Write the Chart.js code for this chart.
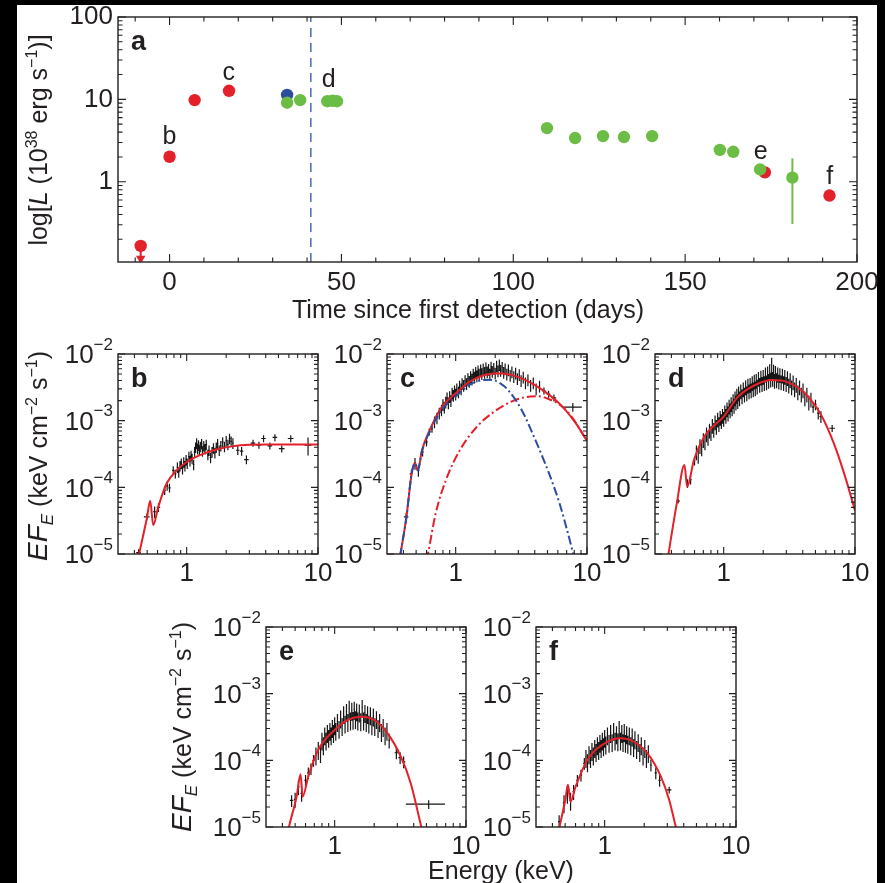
<!DOCTYPE html>
<html lang="en">
<head>
<meta charset="UTF-8">
<title>Outburst light curve and spectra</title>
<script src="https://cdn.jsdelivr.net/npm/chart.js"></script>
<style>
  body { margin: 0; background: #000; width: 885px; height: 883px; overflow: hidden; }
  #page { position: absolute; left: 17px; top: 5px; width: 860px; height: 878px; background: #fff; }
  canvas { position: absolute; left: 0; top: 0; }
  .t { position: absolute; font-family: "Liberation Sans", Arial, Helvetica, sans-serif; font-size: 25px;
       color: #231f20; white-space: nowrap; line-height: 1; }
  .c { transform: translate(-50%, -50%); }
  .v { transform: translate(-50%, -50%) rotate(-90deg); }
  .t sup { font-size: 16px; vertical-align: 10px; line-height: 0; }
  .t sub { font-size: 17px; vertical-align: -6px; line-height: 0; }
  .big { font-size: 28px; }
</style>
</head>
<body>
<div id="page"></div>
<canvas id="lc" width="885" height="883"></canvas>
<canvas id="sb" width="885" height="883"></canvas>
<canvas id="sc" width="885" height="883"></canvas>
<canvas id="sd" width="885" height="883"></canvas>
<canvas id="se" width="885" height="883"></canvas>
<canvas id="sf" width="885" height="883"></canvas>

<div class="t v" style="left:38px; top:140px">log[<i>L</i> (10<sup>38</sup> erg s<sup>−1</sup>)]</div>
<div class="t c" style="left:468px; top:309px">Time since first detection (days)</div>
<div class="t v" style="left:38px; top:456px"><i class="big">EF</i><sub><i>E</i></sub> (keV cm<sup>−2</sup> s<sup>−1</sup>)</div>
<div class="t v" style="left:182px; top:727px"><i class="big">EF</i><sub><i>E</i></sub> (keV cm<sup>−2</sup> s<sup>−1</sup>)</div>
<div class="t c" style="left:501px; top:870px">Energy (keV)</div>

<script>
  // ---- panel a: luminosity vs time ----
  const lcGreenDay = [34.2, 38.0, 45.9, 47.4, 48.7, 109.8, 118.0, 126.1, 132.2, 140.4, 160.1, 164.0, 171.8, 181.2];
  const lcGreenLum = [9.1, 9.8, 9.5, 9.6, 9.5, 4.48, 3.39, 3.58, 3.49, 3.58, 2.43, 2.31, 1.41, 1.12];
  const lcRedDay = [-8.4, 0, 7.3, 17.3, 173.2, 192.0];
  const lcRedLum = [0.166, 2.01, 9.8, 12.7, 1.30, 0.68];
  const lcBlueDay = [34.2];
  const lcBlueLum = [11.3];
  const lcErrDay = 181.2, lcErrLo = 0.307, lcErrHi = 1.92;   // green error bar
  const lcLimitDay = -8.4, lcLimitTo = 0.117;                 // upper limit arrow
  const lcDashDay = 41.1;
  const lcNotes = [['b', 0, 3.49], ['c', 17.2, 20.8], ['d', 46.3, 17.1], ['e', 172, 2.3], ['f', 192.1, 1.14]];
  const dayTicks = [0, 50, 100, 150, 200];
  const lumTicks = [1, 10, 100];

  // ---- spectra: tick labels ----
  const energyTicks = [1, 10];
  const fluxTicks = [[1e-2, '−2'], [1e-3, '−3'], [1e-4, '−4'], [1e-5, '−5']];

  // model curves (keV, keV cm^-2 s^-1)
  const bModelE = [0.40, 0.434, 0.497, 0.528, 0.556, 0.608, 0.705, 0.84, 1.0, 1.26, 1.69, 2.27, 3.0, 4.07, 6.0, 10.0];
  const bModelF = [5e-6, 1.0e-5, 3.4e-5, 6.3e-5, 2.7e-5, 5.1e-5, 1.15e-4, 1.8e-4, 2.4e-4, 3.05e-4, 3.7e-4, 4.15e-4, 4.35e-4, 4.4e-4, 4.4e-4, 4.4e-4];

  const cModelE = [0.36, 0.38, 0.422, 0.462, 0.49, 0.515, 0.554, 0.644, 0.772, 1.0, 1.29, 1.64, 1.96, 2.3, 2.8, 3.38, 4.57, 6.17, 8.1, 10.0];
  const cModelF = [5e-6, 1.0e-5, 3.6e-5, 1.6e-4, 2.3e-4, 1.8e-4, 3.6e-4, 7.7e-4, 1.53e-3, 2.57e-3, 3.9e-3, 4.8e-3, 5.1e-3, 5.1e-3, 4.7e-3, 4.1e-3, 2.9e-3, 1.8e-3, 9.5e-4, 5.0e-4];
  const cSoftE = [0.36, 0.38, 0.422, 0.462, 0.49, 0.515, 0.554, 0.644, 0.772, 1.0, 1.29, 1.54, 1.85, 2.2, 2.5, 3.18, 4.05, 5.15, 6.17, 7.18, 7.86];
  const cSoftF = [5e-6, 1.0e-5, 3.6e-5, 1.6e-4, 2.3e-4, 1.8e-4, 3.5e-4, 7.3e-4, 1.4e-3, 2.3e-3, 3.5e-3, 4.0e-3, 4.1e-3, 3.6e-3, 2.9e-3, 1.45e-3, 5.1e-4, 1.6e-4, 5.8e-5, 2.0e-5, 1.0e-5];
  const cHardE = [0.60, 0.615, 0.705, 0.845, 1.075, 1.45, 1.96, 2.65, 3.38, 4.3, 5.15, 6.17, 7.5, 10.0];
  const cHardF = [8e-6, 1.0e-5, 4.1e-5, 1.3e-4, 3.6e-4, 8.1e-4, 1.36e-3, 1.93e-3, 2.25e-3, 2.32e-3, 2.1e-3, 1.75e-3, 1.2e-3, 5.0e-4];

  const dModelE = [0.36, 0.38, 0.44, 0.503, 0.527, 0.594, 0.711, 1.0, 1.29, 1.74, 2.35, 2.99, 4.03, 5.43, 6.9, 8.26, 10.0];
  const dModelF = [5e-6, 1.0e-5, 5.8e-5, 2.16e-4, 1.02e-4, 2.57e-4, 5.75e-4, 1.15e-3, 2.29e-3, 3.43e-3, 4.07e-3, 3.85e-3, 2.72e-3, 1.29e-3, 4.57e-4, 1.62e-4, 4.5e-5];

  const eModelE = [0.42, 0.449, 0.513, 0.55, 0.57, 0.629, 0.748, 1.0, 1.26, 1.59, 2.0, 2.53, 3.19, 3.8, 4.57, 5.0];
  const eModelF = [5e-6, 1.0e-5, 2.85e-5, 6.2e-5, 2.85e-5, 5.7e-5, 1.43e-4, 2.85e-4, 4.03e-4, 4.52e-4, 4.03e-4, 2.54e-4, 1.14e-4, 4.5e-5, 1.0e-5, 5e-6];

  const fModelE = [0.42, 0.453, 0.504, 0.525, 0.55, 0.6, 0.738, 1.0, 1.32, 1.67, 2.12, 2.68, 3.1, 3.48, 3.8];
  const fModelF = [5e-6, 1.0e-5, 2.7e-5, 4.3e-5, 2.4e-5, 4.0e-5, 1.01e-4, 1.8e-4, 2.14e-4, 1.9e-4, 1.27e-4, 5.7e-5, 2.54e-5, 1.0e-5, 5e-6];

  // data: [E, F, horizontal half-width fraction, vertical half-height fraction]
  const bData = [
    [0.43,1.05e-5,.04,.12],[0.497,3.6e-5,.05,.12],[0.57,4.3e-5,.03,.2],[0.61,5.0e-5,.03,.15],[0.68,9.0e-5,.02,.15],
    [0.71,1.05e-4,.02,.15],[0.74,9.8e-5,.02,.15],[0.79,1.8e-4,.02,.15],[0.82,1.6e-4,.02,.15],
    [0.85,2.0e-4],[0.87,1.7e-4],[0.89,2.1e-4],[0.91,2.3e-4],[0.93,1.9e-4],[0.95,2.4e-4],[0.97,2.1e-4],[0.99,2.6e-4],
    [1.01,2.3e-4],[1.04,2.9e-4],[1.06,2.5e-4],[1.08,3.0e-4],[1.10,2.7e-4],[1.13,2.2e-4],[1.15,3.4e-4],[1.17,4.0e-4],
    [1.19,4.6e-4],[1.21,3.8e-4],[1.23,4.3e-4],[1.25,3.6e-4],[1.27,4.1e-4],[1.30,4.5e-4],[1.32,3.5e-4],[1.35,4.2e-4],
    [1.38,3.8e-4],[1.41,4.4e-4],[1.45,3.1e-4],[1.48,3.6e-4],[1.52,2.8e-4],[1.56,3.4e-4],[1.60,3.9e-4],[1.64,3.3e-4],
    [1.68,4.0e-4],[1.72,4.5e-4],[1.77,3.6e-4],[1.82,4.2e-4],[1.88,4.8e-4],[1.94,4.1e-4],[2.00,5.0e-4],[2.06,4.4e-4],
    [2.12,5.4e-4],[2.18,4.9e-4],[2.25,4.6e-4],
    [2.45,3.6e-4,.03,.15],[2.62,3.5e-4,.03,.15],[2.85,2.6e-4,.04,.15],[3.2,4.6e-4,.04,.12],[3.55,4.3e-4,.04,.12],
    [3.85,5.4e-4,.04,.12],[4.3,4.2e-4,.04,.12],[4.7,5.6e-4,.04,.12],[5.3,3.8e-4,.05,.12],[6.2,5.4e-4,.05,.12],[8.4,4.3e-4,.06,.3]
  ];
  const cData = [
    [0.42,3.6e-5,.04,.15],[0.46,1.6e-4,.03,.15],[0.49,2.3e-4,.02,.2],[0.52,1.8e-4,.02,.2],[0.56,3.4e-4,.02,.15],
    [0.60,4.8e-4,.02,.15],[0.63,6.8e-4,.02,.12],[0.66,7.5e-4,.02,.12],[0.69,9.6e-4],[0.72,1.1e-3],[0.75,1.3e-3],
    [0.78,1.45e-3],[0.80,1.75e-3],[0.82,1.6e-3],[0.84,1.9e-3],[0.86,2.2e-3],[0.88,1.85e-3],[0.90,2.3e-3],[0.92,2.0e-3],
    [0.94,2.6e-3],[0.96,2.4e-3],[0.98,2.8e-3],[1.00,2.5e-3],[1.02,3.0e-3],[1.05,2.7e-3],[1.07,3.3e-3],[1.10,3.0e-3],
    [1.12,3.6e-3],[1.15,3.4e-3],[1.18,4.0e-3],[1.21,3.6e-3],[1.24,4.3e-3],[1.27,3.9e-3],[1.30,4.6e-3],[1.33,4.2e-3],
    [1.36,5.0e-3],[1.39,4.5e-3],[1.42,5.3e-3],[1.45,4.7e-3],[1.48,5.6e-3],[1.51,5.0e-3],[1.55,5.8e-3],[1.58,5.1e-3],
    [1.62,6.0e-3],[1.66,5.3e-3],[1.70,6.2e-3],[1.74,5.4e-3],[1.78,5.9e-3],[1.82,5.0e-3],[1.86,6.4e-3],[1.90,5.5e-3],
    [1.95,6.1e-3],[2.00,5.2e-3],[2.05,6.6e-3],[2.10,5.6e-3],[2.15,6.9e-3],[2.20,5.7e-3],[2.26,6.3e-3],[2.32,5.3e-3],
    [2.38,6.0e-3],[2.45,5.0e-3],[2.52,5.8e-3],[2.60,4.8e-3],[2.68,5.4e-3],[2.77,4.6e-3],[2.86,5.2e-3],[2.95,4.3e-3],
    [3.05,4.9e-3],[3.15,4.0e-3],[3.27,4.5e-3],[3.40,3.7e-3],[3.55,4.1e-3],[3.72,3.4e-3],[3.90,3.7e-3],[4.10,3.0e-3],
    [4.35,3.3e-3],[4.7,2.8e-3,.03,.12],[5.1,2.5e-3,.03,.12],[5.6,2.2e-3,.04,.12],[7.8,1.6e-3,.17,.15]
  ];
  const dData = [
    [0.45,6.2e-5,.03,.08],[0.53,1.15e-4,.02,.15],[0.56,1.3e-4,.02,.15],[0.60,2.5e-4,.015,.15],[0.62,3.4e-4],[0.64,3.0e-4],
    [0.66,4.2e-4],[0.68,3.9e-4],[0.70,5.2e-4],[0.72,4.8e-4],[0.74,6.3e-4],[0.76,5.6e-4],[0.78,7.2e-4],[0.80,6.6e-4],
    [0.82,8.5e-4],[0.84,7.4e-4],[0.86,9.6e-4],[0.88,8.2e-4],[0.90,1.05e-3],[0.92,9.0e-4],[0.94,1.12e-3],[0.96,1.0e-3],
    [0.98,1.2e-3],[1.00,1.08e-3],[1.02,1.35e-3],[1.04,1.2e-3],[1.06,1.5e-3],[1.08,1.3e-3],[1.10,1.65e-3],[1.12,1.45e-3],
    [1.14,1.8e-3],[1.16,1.55e-3],[1.18,2.0e-3],[1.20,1.7e-3],[1.22,2.2e-3],[1.24,1.9e-3],[1.26,2.4e-3],[1.28,2.0e-3],
    [1.30,2.6e-3],[1.32,2.2e-3],[1.35,2.8e-3],[1.38,2.35e-3],[1.41,3.0e-3],[1.44,2.5e-3],[1.47,3.2e-3],[1.50,2.6e-3],
    [1.53,3.4e-3],[1.56,2.8e-3],[1.59,3.5e-3],[1.62,2.9e-3],[1.65,3.7e-3],[1.68,3.0e-3],[1.71,3.9e-3],[1.74,3.1e-3],
    [1.77,4.0e-3],[1.80,3.3e-3],[1.84,4.3e-3],[1.88,3.5e-3],[1.92,4.5e-3],[1.96,3.6e-3],[2.00,4.6e-3],[2.04,3.7e-3],
    [2.08,5.0e-3],[2.12,3.8e-3],[2.16,5.2e-3],[2.20,4.0e-3],[2.24,5.6e-3],[2.28,4.2e-3],[2.32,6.5e-3,.01,.35],[2.36,4.3e-3],
    [2.40,5.5e-3],[2.44,4.0e-3],[2.48,5.3e-3],[2.53,4.1e-3],[2.58,5.0e-3],[2.63,3.9e-3],[2.68,4.9e-3],[2.74,3.8e-3],
    [2.80,4.8e-3],[2.86,3.7e-3],[2.92,4.6e-3],[2.99,3.6e-3],[3.06,4.4e-3],[3.13,3.4e-3],[3.21,4.1e-3],[3.29,3.2e-3],
    [3.38,3.8e-3],[3.47,3.0e-3],[3.57,3.5e-3],[3.67,2.7e-3],[3.78,3.2e-3],[3.90,2.5e-3],[4.02,2.9e-3],[4.15,2.2e-3],
    [4.30,2.5e-3],[4.45,1.9e-3],[4.62,2.1e-3],[4.80,1.6e-3,.02,.18],[5.0,1.75e-3,.02,.18],[5.25,1.3e-3,.02,.2],
    [5.5,1.15e-3,.025,.2],[6.7,7.7e-4,.05,.12]
  ];
  const eData = [
    [0.47,2.5e-5,.03,.2],[0.50,2.6e-5,.02,.25],[0.53,4.0e-5,.02,.25],[0.56,3.2e-5,.02,.25],[0.60,5.0e-5,.02,.2],
    [0.63,6.5e-5,.02,.2],[0.66,7.5e-5,.02,.2],[0.69,1.0e-4,.02,.2],[0.72,1.2e-4],[0.75,1.45e-4],[0.78,1.3e-4],
    [0.80,2.0e-4],[0.82,1.7e-4],[0.84,2.4e-4],[0.86,2.0e-4],[0.88,2.6e-4],[0.90,2.2e-4],[0.92,2.8e-4],[0.94,2.4e-4],
    [0.96,3.1e-4],[0.98,2.6e-4],[1.00,3.4e-4],[1.02,2.8e-4],[1.05,3.8e-4],[1.08,3.0e-4],[1.11,4.3e-4],[1.14,3.3e-4],
    [1.17,5.0e-4],[1.20,3.6e-4],[1.23,5.4e-4],[1.26,3.8e-4],[1.29,6.0e-4],[1.32,4.0e-4],[1.35,5.6e-4],[1.38,4.1e-4],
    [1.41,5.8e-4],[1.44,4.2e-4],[1.47,5.5e-4],[1.50,4.0e-4],[1.54,5.3e-4],[1.58,3.9e-4],[1.62,6.2e-4],[1.66,4.0e-4],
    [1.70,5.2e-4],[1.74,3.8e-4],[1.78,5.0e-4],[1.82,3.6e-4],[1.87,4.8e-4],[1.92,3.4e-4],[1.97,4.6e-4],[2.02,3.3e-4],
    [2.08,4.2e-4],[2.14,3.1e-4],[2.20,3.8e-4],[2.27,2.7e-4],[2.34,3.2e-4],[2.42,2.4e-4],[2.50,2.8e-4],
    [2.60,2.0e-4,.015,.25],[2.95,1.3e-4,.03,.2],[3.15,1.1e-4,.03,.2],[3.35,9.5e-5,.03,.2],[5.2,2.2e-5,.33,.15]
  ];
  const fData = [
    [0.45,1.2e-5,.02,.25],[0.49,2.3e-5,.02,.3],[0.52,3.2e-5,.02,.3],[0.55,2.5e-5,.02,.3],[0.58,3.4e-5,.02,.25],
    [0.62,5.0e-5,.02,.2],[0.66,6.0e-5,.02,.2],[0.70,9.0e-5,.02,.2],[0.72,1.1e-4],[0.74,9.5e-5],[0.76,1.25e-4],
    [0.78,1.1e-4],[0.80,1.4e-4],[0.82,1.2e-4],[0.84,1.55e-4],[0.86,1.35e-4],[0.88,1.7e-4],[0.90,1.45e-4],[0.92,1.85e-4],
    [0.94,1.55e-4],[0.96,2.0e-4],[0.98,1.65e-4],[1.00,2.2e-4],[1.02,1.75e-4],[1.05,2.4e-4],[1.08,1.85e-4],[1.11,2.6e-4],
    [1.14,1.9e-4],[1.17,2.8e-4],[1.20,2.0e-4],[1.23,2.5e-4],[1.26,1.95e-4],[1.29,3.0e-4],[1.32,2.0e-4],[1.35,2.6e-4],
    [1.38,1.9e-4],[1.41,2.7e-4],[1.44,1.85e-4],[1.47,2.5e-4],[1.50,1.8e-4],[1.54,2.4e-4],[1.58,1.7e-4],[1.62,2.3e-4],
    [1.66,1.6e-4],[1.70,2.1e-4],[1.75,1.5e-4],[1.80,1.9e-4],[1.85,1.35e-4],[1.90,1.7e-4],[1.96,1.2e-4],[2.02,1.55e-4],
    [2.08,1.1e-4],[2.15,1.3e-4],[2.25,8.5e-5,.015,.2],[2.45,6.5e-5,.02,.2],[2.62,5.0e-5,.02,.2],[3.1,3.6e-5,.04,.12]
  ];

  const INK = '#231f20';
  const FONT = '"Liberation Sans", Arial, Helvetica, sans-serif';
  const RED = '#e3212a', GREEN = '#6cbd45', BLUE = '#2c4d9e';

  function logMinors(lo, hi) {
    const out = [];
    for (let d = Math.floor(Math.log10(lo)); d < Math.ceil(Math.log10(hi)); d++) {
      for (let m = 2; m <= 9; m++) {
        const v = m * Math.pow(10, d);
        if (v > lo * 1.001 && v < hi * 0.999) out.push(v);
      }
    }
    return out;
  }

  // frame, inward ticks, tick labels and panel letter
  function framePlugin(o) {
    return {
      id: 'frame',
      afterDraw(chart) {
        const { ctx, chartArea: a, scales: { x, y } } = chart;
        ctx.save();
        ctx.strokeStyle = INK;
        ctx.lineWidth = 1.4;
        ctx.strokeRect(a.left, a.top, a.right - a.left, a.bottom - a.top);
        ctx.lineWidth = 1.1;
        ctx.beginPath();
        const xt = (v, len) => {
          const p = x.getPixelForValue(v);
          ctx.moveTo(p, a.bottom); ctx.lineTo(p, a.bottom - len);
          ctx.moveTo(p, a.top); ctx.lineTo(p, a.top + len);
        };
        const yt = (v, len) => {
          const p = y.getPixelForValue(v);
          ctx.moveTo(a.left, p); ctx.lineTo(a.left + len, p);
          ctx.moveTo(a.right, p); ctx.lineTo(a.right - len, p);
        };
        o.xMajor.forEach(v => xt(v, o.major));
        o.xMinor.forEach(v => xt(v, o.minor));
        o.yMajor.forEach(v => yt(v, o.major));
        o.yMinor.forEach(v => yt(v, o.minor));
        ctx.stroke();

        ctx.fillStyle = INK;
        ctx.textBaseline = 'middle';
        ctx.font = '26px ' + FONT;
        ctx.textAlign = 'center';
        o.xMajor.forEach(v => ctx.fillText(String(v), x.getPixelForValue(v), a.bottom + o.xGap));
        o.yLabels.forEach(([v, base, exp]) => {
          const py = y.getPixelForValue(v);
          const right = a.left - 5;
          ctx.font = '17px ' + FONT;
          const ew = exp ? ctx.measureText(exp).width : 0;
          ctx.textAlign = 'left';
          if (exp) ctx.fillText(exp, right - ew, py - 9);
          ctx.font = '26px ' + FONT;
          ctx.textAlign = 'right';
          ctx.fillText(base, right - ew, py + (exp ? 2 : 0));
        });

        ctx.font = 'bold 27px ' + FONT;
        ctx.textAlign = 'left';
        ctx.fillText(o.letter, a.left + 13, a.top + 26);

        ctx.font = '25px ' + FONT;
        ctx.textAlign = 'center';
        (o.notes || []).forEach(([t, vx, vy]) => ctx.fillText(t, x.getPixelForValue(vx), y.getPixelForValue(vy)));
        ctx.restore();
      }
    };
  }

  // error bars from xMin/xMax/yMin/yMax, drawn under the lines
  const errorPlugin = {
    id: 'errbars',
    beforeDatasetsDraw(chart) {
      const { ctx, chartArea: a, scales: { x, y } } = chart;
      ctx.save();
      ctx.beginPath();
      ctx.rect(a.left, a.top, a.right - a.left, a.bottom - a.top);
      ctx.clip();
      chart.data.datasets.forEach(ds => {
        if (!ds.bars) return;
        ctx.strokeStyle = ds.barColor;
        ctx.lineWidth = ds.barWidth;
        ctx.beginPath();
        ds.data.forEach(p => {
          const px = x.getPixelForValue(p.x), py = y.getPixelForValue(p.y);
          ctx.moveTo(x.getPixelForValue(p.xMin), py); ctx.lineTo(x.getPixelForValue(p.xMax), py);
          ctx.moveTo(px, y.getPixelForValue(p.yMin)); ctx.lineTo(px, y.getPixelForValue(p.yMax));
        });
        ctx.stroke();
      });
      ctx.restore();
    }
  };

  function makeChart(id, box, xScale, yScale, datasets, frame) {
    return new Chart(document.getElementById(id), {
      type: 'scatter',
      data: { datasets },
      options: {
        responsive: false,
        animation: false,
        events: [],
        layout: { padding: { left: box[0], top: box[1], right: 885 - box[2], bottom: 883 - box[3] } },
        scales: {
          x: Object.assign({ display: false }, xScale),
          y: Object.assign({ display: false }, yScale)
        },
        plugins: { legend: { display: false }, tooltip: { enabled: false } }
      },
      plugins: [errorPlugin, framePlugin(frame)]
    });
  }

  const pts = (xs, ys) => xs.map((v, i) => ({ x: v, y: ys[i] }));
  function spectrum(rows, ex0, ey0) {
    return rows.map(r => {
      const [e, f, ex = ex0, ey = ey0] = r;
      return { x: e, y: f, xMin: e * (1 - ex), xMax: e * (1 + ex), yMin: f * (1 - ey), yMax: f * (1 + ey) };
    });
  }
  const modelLine = (es, fs, color, dash) => ({
    data: pts(es, fs), showLine: true, borderColor: color, borderWidth: 2, borderDash: dash || [],
    pointRadius: 0, cubicInterpolationMode: 'monotone', clip: 0
  });
  const dataBars = (rows, ex0, ey0) => ({
    data: spectrum(rows, ex0, ey0), pointRadius: 0, bars: true, barColor: '#161616', barWidth: 1.2
  });

  // ---- panel a ----
  const dayMinor = [];
  for (let d = -10; d < 200; d += 10) if (d % 50 !== 0) dayMinor.push(d);
  const dot = (color) => ({ pointRadius: 6.2, pointBackgroundColor: color, pointBorderColor: color, pointBorderWidth: 0 });

  makeChart('lc', [118, 17, 857, 262],
    { type: 'linear', min: -15, max: 200 },
    { type: 'logarithmic', min: 0.106, max: 100 },
    [
      Object.assign({ data: pts(lcGreenDay, lcGreenLum) }, dot(GREEN)),
      Object.assign({ data: pts(lcRedDay, lcRedLum) }, dot(RED)),
      {
        data: [{ x: lcLimitDay, y: lcRedLum[0] }, { x: lcLimitDay, y: lcLimitTo }],
        showLine: true, borderColor: RED, borderWidth: 2,
        pointRadius: [0, 3.5], pointStyle: 'triangle', rotation: 180,
        pointBackgroundColor: RED, pointBorderColor: RED
      },
      Object.assign({ data: pts(lcBlueDay, lcBlueLum) }, dot(BLUE)),
      {
        data: [{ x: lcErrDay, y: lcErrLo, xMin: lcErrDay, xMax: lcErrDay, yMin: lcErrLo, yMax: lcErrHi }],
        pointRadius: 0, bars: true, barColor: GREEN, barWidth: 2
      },
      {
        data: [{ x: lcDashDay, y: 0.106 }, { x: lcDashDay, y: 100 }],
        showLine: true, borderColor: '#4c6cab', borderWidth: 1.5, borderDash: [9, 6], pointRadius: 0, clip: 0
      }
    ],
    {
      xMajor: dayTicks, xMinor: dayMinor, yMajor: lumTicks, yMinor: logMinors(0.106, 100),
      major: 8, minor: 4.5, xGap: 21,
      yLabels: lumTicks.map(v => [v, String(v)]),
      letter: 'a', notes: lcNotes
    });

  // ---- spectra ----
  const specX = { type: 'logarithmic', min: 0.3, max: 10 };
  const specY = { type: 'logarithmic', min: 1e-5, max: 1e-2 };
  const specFrame = (letter) => ({
    xMajor: energyTicks, xMinor: logMinors(0.3, 10), yMajor: fluxTicks.map(t => t[0]), yMinor: logMinors(1e-5, 1e-2),
    major: 7, minor: 4, xGap: 20,
    yLabels: fluxTicks.map(([v, e]) => [v, '10', e]),
    letter
  });

  makeChart('sb', [118, 354, 318, 554], specX, specY,
    [modelLine(bModelE, bModelF, RED), dataBars(bData, .015, .18)], specFrame('b'));

  makeChart('sc', [387, 354, 587, 554], specX, specY,
    [modelLine(cSoftE, cSoftF, BLUE, [9, 3, 2, 3]), modelLine(cModelE, cModelF, RED),
     modelLine(cHardE, cHardF, RED, [9, 3, 2, 3]), dataBars(cData, .012, .2)], specFrame('c'));

  makeChart('sd', [655, 354, 855, 554], specX, specY,
    [modelLine(dModelE, dModelF, RED), dataBars(dData, .01, .25)], specFrame('d'));

  makeChart('se', [266, 627, 466, 827], specX, specY,
    [modelLine(eModelE, eModelF, RED), dataBars(eData, .012, .3)], specFrame('e'));

  makeChart('sf', [536, 627, 736, 827], specX, specY,
    [modelLine(fModelE, fModelF, RED), dataBars(fData, .012, .3)], specFrame('f'));
</script>
</body>
</html>
